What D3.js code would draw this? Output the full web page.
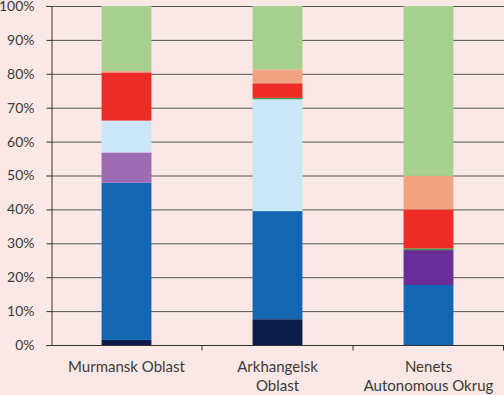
<!DOCTYPE html>
<html>
<head>
<meta charset="utf-8">
<script src="https://cdn.jsdelivr.net/npm/d3@7"></script>
<style>
  html, body { margin: 0; padding: 0; background: #f9e8e6; }
  svg { display: block; }
  text { font-family: Lato, "Open Sans", sans-serif; fill: #3a3a3a; }
</style>
</head>
<body>
<div id="chart"></div>
<script>
// categories (x labels, split on \n)
const CATEGORIES = ["Murmansk Oblast", "Arkhangelsk\nOblast", "Nenets\nAutonomous Okrug"];

// stack order bottom -> top, shares in % per category
const SERIES_NAMES = ["s1", "s2", "s3", "s4", "s5", "s6", "s7", "s8", "s9"];
const SERIES_COLORS = ["#0c1c4a", "#1266b2", "#6a2d97", "#9d6bb1", "#c9e7f8", "#3d9a48", "#ee2b24", "#f0a482", "#a7cf8e"];
const VAL_MURMANSK   = [1.5, 46.4, 0,    8.9, 9.4, 0,   14.2, 0.4, 19.2];
const VAL_ARKHANGELSK = [7.6, 31.9, 0,   0,   33.0, 0.4, 4.3,  4.1, 18.7];
const VAL_NENETS     = [0,   17.7, 10.3, 0,   0,    0.5, 11.5, 9.9, 50.1];
const Y_TICKS = [0, 10, 20, 30, 40, 50, 60, 70, 80, 90, 100];

const rows = [VAL_MURMANSK, VAL_ARKHANGELSK, VAL_NENETS].map((vals, i) => {
  const r = { cat: CATEGORIES[i] };
  SERIES_NAMES.forEach((k, j) => { r[k] = vals[j]; });
  return r;
});

const width = 504, height = 395;
const margin = { top: 6, right: 0, bottom: 50, left: 51 };

const svg = d3.select("#chart").append("svg")
  .attr("width", width)
  .attr("height", height);

const x = d3.scaleBand()
  .domain(CATEGORIES)
  .range([margin.left, width - margin.right])
  .paddingInner(0.67)
  .paddingOuter(0.335);

const y = d3.scaleLinear()
  .domain([0, 100])
  .range([height - margin.bottom, margin.top]);

// ---- gridlines ----
svg.append("g")
  .selectAll("line")
  .data(Y_TICKS.filter(t => t > 0))
  .enter()
  .append("line")
  .attr("x1", margin.left)
  .attr("x2", width - margin.right)
  .attr("y1", d => y(d) + 0.5)
  .attr("y2", d => y(d) + 0.5)
  .attr("stroke", "#555")
  .attr("stroke-width", 1);

// ---- bars ----
const stacked = d3.stack().keys(SERIES_NAMES)(rows);

svg.append("g")
  .selectAll("g")
  .data(stacked)
  .enter()
  .append("g")
  .attr("fill", (d, i) => SERIES_COLORS[i])
  .selectAll("rect")
  .data(d => d)
  .enter()
  .append("rect")
  .attr("x", d => x(d.data.cat))
  .attr("width", x.bandwidth())
  .attr("y", d => y(d[1]))
  .attr("height", d => y(d[0]) - y(d[1]));

// ---- y axis ----
const yAxis = svg.append("g")
  .attr("transform", `translate(${margin.left + 0.5},0)`)
  .call(d3.axisLeft(y).tickValues(Y_TICKS).tickFormat(d => d + "%").tickSize(5).tickPadding(12));
yAxis.select(".domain").attr("stroke", "#333");
yAxis.selectAll(".tick line").attr("stroke", "#333");
yAxis.selectAll("text").attr("font-size", 14).style("fill", "#3a3a3a");

// ---- x axis ----
const xAxisY = y(0) + 0.5;
svg.append("line")
  .attr("x1", margin.left)
  .attr("x2", width)
  .attr("y1", xAxisY)
  .attr("y2", xAxisY)
  .attr("stroke", "#333");

const step = x.step();
svg.append("g")
  .selectAll("line")
  .data(CATEGORIES)
  .enter()
  .append("line")
  .attr("x1", d => Math.min(width - 0.5, x(d) + x.bandwidth() / 2 + step / 2))
  .attr("x2", d => Math.min(width - 0.5, x(d) + x.bandwidth() / 2 + step / 2))
  .attr("y1", xAxisY)
  .attr("y2", xAxisY + 5)
  .attr("stroke", "#333");

const labels = svg.append("g")
  .selectAll("text")
  .data(CATEGORIES)
  .enter()
  .append("text")
  .attr("text-anchor", "middle")
  .attr("font-size", 15)
  .attr("transform", d => `translate(${x(d) + x.bandwidth() / 2},${xAxisY + 26})`);

labels.selectAll("tspan")
  .data(d => d.split("\n"))
  .enter()
  .append("tspan")
  .attr("x", 0)
  .attr("dy", (d, i) => i === 0 ? 0 : 19)
  .text(d => d);
</script>
</body>
</html>
